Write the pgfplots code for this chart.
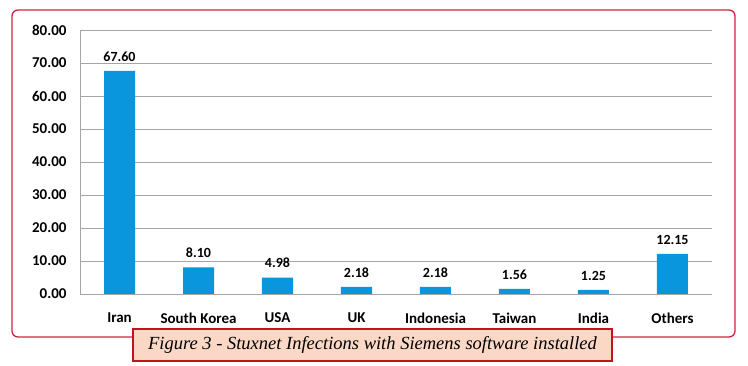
\documentclass[border=0pt]{standalone}
\usepackage{pgfplots}
\pgfplotsset{compat=1.18}
\usepackage{fontspec}
\setmainfont{Carlito}
\newfontfamily\capfont{Liberation Serif}
\definecolor{barblue}{HTML}{0A96DC}
\definecolor{gridgray}{HTML}{A6A6A6}
\definecolor{outerred}{HTML}{D2223F}
\definecolor{capred}{HTML}{C0141E}
\definecolor{peach}{HTML}{FBD8C6}
\begin{document}
\begin{tikzpicture}
\path[use as bounding box] (0pt,0pt) rectangle (748pt,366pt);
\draw[outerred, line width=1.3pt, rounded corners=6pt] (12pt,29pt) rectangle (735pt,356pt);
\begin{axis}[
  at={(80pt,72pt)}, anchor=south west,
  scale only axis, width=632pt, height=264pt,
  xmin=-0.5, xmax=7.5, ymin=0, ymax=80,
  ytick={0,10,...,80},
  xtick={0,...,7},
  xticklabels={Iran,South Korea,USA,UK,Indonesia,Taiwan,India,Others},
  axis x line*=bottom, axis y line*=left,
  axis line style={gridgray, line width=0.8pt},
  ymajorgrids, grid style={gridgray, line width=0.8pt},
  major tick length=0pt,
  xticklabel style={font=\fontsize{15}{17}\selectfont\bfseries, text=black, yshift=-15pt},
  yticklabel style={font=\fontsize{15}{17}\selectfont\bfseries, text=black, xshift=-10pt},
  yticklabel={\pgfmathprintnumber[fixed,fixed zerofill,precision=2,assume math mode=true]{\tick}},
  ybar, bar width=31pt,
  nodes near coords,
  nodes near coords style={font=\fontsize{14}{16}\selectfont\bfseries, text=black, yshift=6pt,
    /pgf/number format/fixed, /pgf/number format/fixed zerofill, /pgf/number format/precision=2, /pgf/number format/assume math mode=true},
]
\addplot[fill=barblue, draw=none] coordinates {(0,67.60) (1,8.10) (2,4.98) (3,2.18) (4,2.18) (5,1.56) (6,1.25) (7,12.15)};
\end{axis}
\draw[capred, line width=1.6pt, fill=peach] (133pt,5pt) rectangle (612pt,37pt);
\node at (372.5pt,21pt) {\capfont\itshape\fontsize{18.5}{20}\selectfont Figure 3 - Stuxnet Infections with Siemens software installed};
\end{tikzpicture}
\end{document}
